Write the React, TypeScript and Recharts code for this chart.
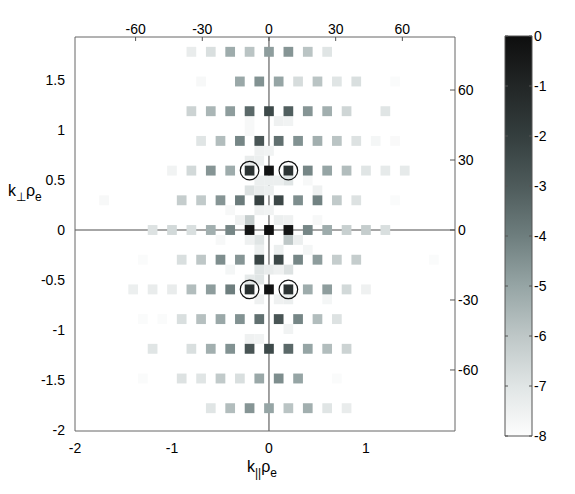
import React from 'react';
import { ScatterChart, Scatter, XAxis, YAxis, ReferenceLine, BarChart, Bar } from 'recharts';

// ---------- axes ----------
const X_DOMAIN: [number, number] = [-2, 1.918];
const Y_DOMAIN: [number, number] = [-2.01, 1.93];
const X_TICKS = [-2, -1, 0, 1];
const Y_TICKS = [-2, -1.5, -1, -0.5, 0, 0.5, 1, 1.5];
const TOP_MODE_TICKS = [-60, -30, 0, 30, 60];
const RIGHT_MODE_TICKS = [-60, -30, 0, 30, 60];
const KX_PER_MODE = 0.02292;
const KY_PER_MODE = 0.02333;
const CB_TICKS = [0, -1, -2, -3, -4, -5, -6, -7, -8];

// ---------- lattice ----------
const COL_STEP = 0.2;
const ROW_STEP = 0.297;
const FINE_X = 0.1;
const FINE_Y = ROW_STEP / 3;

// log10 amplitude per lattice row; each row starts at column rowStarts[i]
const rowIndices = [6, 5, 4, 3, 2, 1, 0, -1, -2, -3, -4, -5, -6];
const rowStarts = [-4, -3.5, -4, -3.5, -5, -8.5, -6, -6.5, -7, -6.5, -6, -6.5, -3];
const rowP6 = [-7.3, -6.8, -5.2, -5.9, -4.8, -4.6, -5.9, -7.0];
const rowP5 = [-7.8, null, -5.1, -4.5, -5.0, -6.7, -5.9, -7.0, -6.8, null, -7.9];
const rowP4 = [-6.4, -5.5, -4.8, -3.4, -2.4, -3.1, -4.6, -5.3, -6.5, null, -7.0];
const rowP3 = [-7.0, -5.7, -4.2, -2.8, -3.6, -4.5, -5.3, -5.9, -6.9, -7.7, -7.85];
const rowP2 = [-7.6, -6.6, -4.6, -5.2, -1.6, -0.2, -1.6, -4.2, -5.0, -5.7, -7.0, -7.2, -7.2];
const rowP1 = [-7.8, null, null, null, -6.2, -6.1, -4.6, -3.9, -2.1, -2.3, -4.4, -4.1, -6.1, -6.9, null, -7.9];
const row00 = [-6.9, -6.6, -6.8, -5.3, -4.2, -0.3, -0.1, -0.3, -4.2, -5.2, -6.3, -6.2, -6.8];
const rowM1 = [-7.9, null, -6.8, -6.0, -4.4, -4.6, -2.2, -2.3, -4.2, -4.8, -6.2, -6.2, null, null, null, -7.9];
const rowM2 = [-7.4, -7.3, -7.3, -5.7, -4.8, -4.0, -1.5, -0.2, -1.6, -5.2, -4.8, -6.6, -7.5];
const rowM3 = [-7.9, -7.9, -6.8, -5.8, -5.1, -4.5, -3.6, -2.8, -4.2, -5.7, -6.9];
const rowM4 = [-7.0, null, -6.8, -5.3, -4.5, -2.8, -2.4, -3.4, -5.0, -5.7, -6.4];
const rowM5 = [-7.9, null, -6.9, -7.0, -6.1, -6.8, -5.1, -4.4, -5.0, null, -7.9];
const rowM6 = [-7.0, -5.7, -4.6, -5.0, -5.9, -5.3, -7.0, -7.3];
const rowValues = [rowP6, rowP5, rowP4, rowP3, rowP2, rowP1, row00, rowM1, rowM2, rowM3, rowM4, rowM5, rowM6];

// faint cells on the fine grid: [fine x index, fine y index, log10 amplitude]
const fineCells: [number, number, number][] = [
  [-2, 11, -7.8], [-2, 10, -7.8], [-1, 8, -7.5], [-2, 7, -7.3], [-1, 7, -7.4], [-1, 5, -7.4],
  [-2, 4, -6.9], [-1, 4, -7.3], [-1, 3, -7.4], [-1, 2, -7.5], [-2, 1, -6.2], [-3, 1, -7.5], [-4, 2, -7.8],
  [1, 11, -7.5], [2, 11, -7.6], [0, 8, -7.6], [0, 5, -7.4], [1, 5, -7.4], [2, 5, -7.0], [4, 5, -7.8],
  [0, 4, -7.4], [5, 4, -7.5], [1, 1, -7.4], [2, 1, -7.5], [5, 1, -7.8], [0, 2, -7.6],
  [-5, -1, -7.8], [-2, -1, -7.5], [-1, -1, -7.0], [-1, -2, -7.4], [-1, -4, -7.0], [0, -4, -7.3],
  [-4, -4, -7.7], [-2, -5, -7.2], [-1, -5, -7.0], [-1, -7, -7.5], [-2, -11, -7.5], [-1, -11, -7.6],
  [2, -1, -6.0], [3, -1, -7.4], [1, -2, -7.4], [4, -2, -7.7], [2, -4, -6.9], [1, -4, -7.5],
  [1, -7, -7.5], [2, -7, -7.4], [6, -7, -7.7], [2, -10, -7.6],
];

// circled modes
const circleKx = [-0.2, 0.2, -0.2, 0.2];
const circleKy = [2 * ROW_STEP, 2 * ROW_STEP, -2 * ROW_STEP, -2 * ROW_STEP];

// ---------- colormap (value 0 .. -8) ----------
const CMAP = [
  [14, 14, 14], [34, 38, 38], [52, 62, 62], [78, 91, 91], [110, 126, 126],
  [150, 165, 165], [190, 199, 199], [224, 229, 229], [253, 253, 253],
];
function colorOf(v: number): string {
  const t = Math.min(8, Math.max(0, -v));
  const i = Math.min(7, Math.floor(t));
  const f = t - i;
  const a = CMAP[i], b = CMAP[i + 1];
  const c = a.map((x, k) => Math.round(x + (b[k] - x) * f));
  return `rgb(${c[0]},${c[1]},${c[2]})`;
}

// ---------- layout ----------
const W = 575, H = 494;
const PLOT = { left: 75, right: 455, top: 37, bottom: 431 };
const AX_L = 40, AX_R = 40, AX_T = 25, AX_B = 30;
const MARGIN = {
  top: PLOT.top - AX_T,
  right: W - PLOT.right - AX_R,
  bottom: H - PLOT.bottom - AX_B,
  left: PLOT.left - AX_L,
};
const PX_X = (PLOT.right - PLOT.left) / (X_DOMAIN[1] - X_DOMAIN[0]);
const PX_Y = (PLOT.bottom - PLOT.top) / (Y_DOMAIN[1] - Y_DOMAIN[0]);
const CELL_W = FINE_X * PX_X;
const CELL_H = FINE_Y * PX_Y;
const FONT = '"Liberation Sans", Arial, Helvetica, sans-serif';

const mainCells: { kx: number; ky: number; v: number }[] = [];
rowIndices.forEach((n, r) => {
  rowValues[r].forEach((v, i) => {
    if (v !== null && v !== undefined) {
      mainCells.push({ kx: (rowStarts[r] + i) * COL_STEP, ky: n * ROW_STEP, v: v as number });
    }
  });
});
const faintData = fineCells.map(([f, g, v]) => ({ kx: f * FINE_X, ky: g * FINE_Y, v }));
const circleData = circleKx.map((kx, i) => ({ kx, ky: circleKy[i] }));
// invisible anchor points giving the mode axes a series of their own
const topAnchor = TOP_MODE_TICKS.map((m) => ({ m, ky: 0 }));
const rightAnchor = RIGHT_MODE_TICKS.map((m) => ({ kx: 0, m }));

const CellShape = (props: any) => {
  const { cx, cy, payload } = props;
  if (cx == null || cy == null) return null;
  return <rect x={cx - CELL_W / 2} y={cy - CELL_H / 2} width={CELL_W} height={CELL_H} fill={colorOf(payload.v)} />;
};
const CircleShape = (props: any) => {
  const { cx, cy } = props;
  if (cx == null || cy == null) return null;
  return <circle cx={cx} cy={cy} r={9.3} fill="none" stroke="#111" strokeWidth={1.2} />;
};
const NoShape = () => <g />;

const txt = { fontFamily: FONT, fontSize: 14, fill: '#000' };

const LeftTick = (p: any) => (
  <text x={p.x - 10} y={p.y + 5} textAnchor="end" style={txt}>{String(p.payload.value)}</text>
);
const BottomTick = (p: any) => (
  <text x={p.x} y={p.y + 22} textAnchor="middle" style={txt}>{String(p.payload.value)}</text>
);
const TopTick = (p: any) => (
  <g>
    <line x1={p.x} x2={p.x} y1={PLOT.top} y2={PLOT.top + 4} stroke="#555" strokeWidth={1} />
    <text x={p.x} y={PLOT.top - 3} textAnchor="middle" style={txt}>{String(p.payload.value)}</text>
  </g>
);
const RightTick = (p: any) => (
  <g>
    <line x1={p.x - 5} x2={p.x} y1={p.y} y2={p.y} stroke="#555" strokeWidth={1} />
    <text x={p.x + 3} y={p.y + 5} textAnchor="start" style={txt}>{String(p.payload.value)}</text>
  </g>
);
const CbTick = (p: any) => (
  <g>
    <line x1={p.x - 3} x2={p.x} y1={p.y} y2={p.y} stroke="#555" strokeWidth={1} />
    <line x1={p.x - 27} x2={p.x - 24} y1={p.y} y2={p.y} stroke="#555" strokeWidth={1} />
    <text x={p.x + 2} y={p.y + 5} textAnchor="start" style={txt}>{String(p.payload.value)}</text>
  </g>
);

const YLabel = () => (
  <text x={8} y={196} style={{ fontFamily: FONT, fontSize: 16, fill: '#000' }}>
    k<tspan fontSize={12} dy={5}>⊥</tspan><tspan fontSize={16} dy={-5}>ρ</tspan><tspan fontSize={12} dy={5}>e</tspan>
  </text>
);
const XLabel = () => (
  <text x={247} y={472} style={{ fontFamily: FONT, fontSize: 16, fill: '#000' }}>
    k<tspan fontSize={12} dy={5}>||</tspan><tspan fontSize={16} dy={-5}>ρ</tspan><tspan fontSize={12} dy={5}>e</tspan>
  </text>
);

const cbData = [{ name: 'cb', range: [-8, 0] }];
const CB = { left: 505, right: 532, top: 36, bottom: 436 };
const CB_AX = 40;

export default function App() {
  return (
    <div style={{ position: 'absolute', left: 0, top: 0, width: W, height: H, background: '#fff' }}>
      <div style={{ position: 'absolute', left: 0, top: 0 }}>
        <ScatterChart width={W} height={H} margin={MARGIN}>
          <XAxis xAxisId="bottom" orientation="bottom" type="number" dataKey="kx" domain={X_DOMAIN} allowDataOverflow ticks={X_TICKS} interval={0}
            height={AX_B} tickSize={0} tickMargin={0} tickLine={false} axisLine={{ stroke: '#666' }}
            tick={<BottomTick />} label={{ content: () => <XLabel /> }} />
          <XAxis xAxisId="top" orientation="top" type="number" dataKey="m"
            domain={[X_DOMAIN[0] / KX_PER_MODE, X_DOMAIN[1] / KX_PER_MODE]}
            allowDataOverflow ticks={TOP_MODE_TICKS} interval={0} height={AX_T} tickSize={0} tickMargin={0} tickLine={false}
            axisLine={{ stroke: '#666' }} tick={<TopTick />} />
          <YAxis yAxisId="left" orientation="left" type="number" dataKey="ky" domain={Y_DOMAIN} allowDataOverflow ticks={Y_TICKS} interval={0}
            width={AX_L} tickSize={0} tickMargin={0} tickLine={false} axisLine={{ stroke: '#666' }}
            tick={<LeftTick />} label={{ content: () => <YLabel /> }} />
          <YAxis yAxisId="right" orientation="right" type="number" dataKey="m"
            domain={[Y_DOMAIN[0] / KY_PER_MODE, Y_DOMAIN[1] / KY_PER_MODE]}
            allowDataOverflow ticks={RIGHT_MODE_TICKS} interval={0} width={AX_R} tickSize={0} tickMargin={0} tickLine={false}
            axisLine={{ stroke: '#666' }} tick={<RightTick />} />
          <Scatter xAxisId="top" yAxisId="left" data={topAnchor} shape={<NoShape />} isAnimationActive={false} />
          <Scatter xAxisId="bottom" yAxisId="right" data={rightAnchor} shape={<NoShape />} isAnimationActive={false} />
          <Scatter xAxisId="bottom" yAxisId="left" data={faintData} shape={<CellShape />} isAnimationActive={false} />
          <Scatter xAxisId="bottom" yAxisId="left" data={mainCells} shape={<CellShape />} isAnimationActive={false} />
          <ReferenceLine xAxisId="bottom" yAxisId="left" y={0} stroke="#888" strokeWidth={1.6} />
          <ReferenceLine xAxisId="bottom" yAxisId="left" x={0} stroke="#444" strokeWidth={1} />
          <Scatter xAxisId="bottom" yAxisId="left" data={circleData} shape={<CircleShape />} isAnimationActive={false} />
        </ScatterChart>
      </div>
      <div style={{ position: 'absolute', left: 0, top: 0 }}>
        <BarChart width={W} height={H} data={cbData}
          margin={{ top: CB.top, right: W - CB.right - CB_AX, bottom: H - CB.bottom, left: CB.left }} barCategoryGap={0}>
          <defs>
            <linearGradient id="cbGrad" x1="0" y1="0" x2="0" y2="1">
              {CMAP.map((c, i) => (
                <stop key={i} offset={`${(i / 8) * 100}%`} stopColor={`rgb(${c[0]},${c[1]},${c[2]})`} />
              ))}
            </linearGradient>
          </defs>
          <XAxis dataKey="name" hide />
          <YAxis orientation="right" type="number" domain={[-8, 0]} ticks={CB_TICKS} interval={0} width={CB_AX}
            tickSize={0} tickMargin={0} tickLine={false} axisLine={false} tick={<CbTick />} />
          <Bar dataKey="range" fill="url(#cbGrad)" stroke="#555" strokeWidth={1} isAnimationActive={false} />
        </BarChart>
      </div>
    </div>
  );
}
